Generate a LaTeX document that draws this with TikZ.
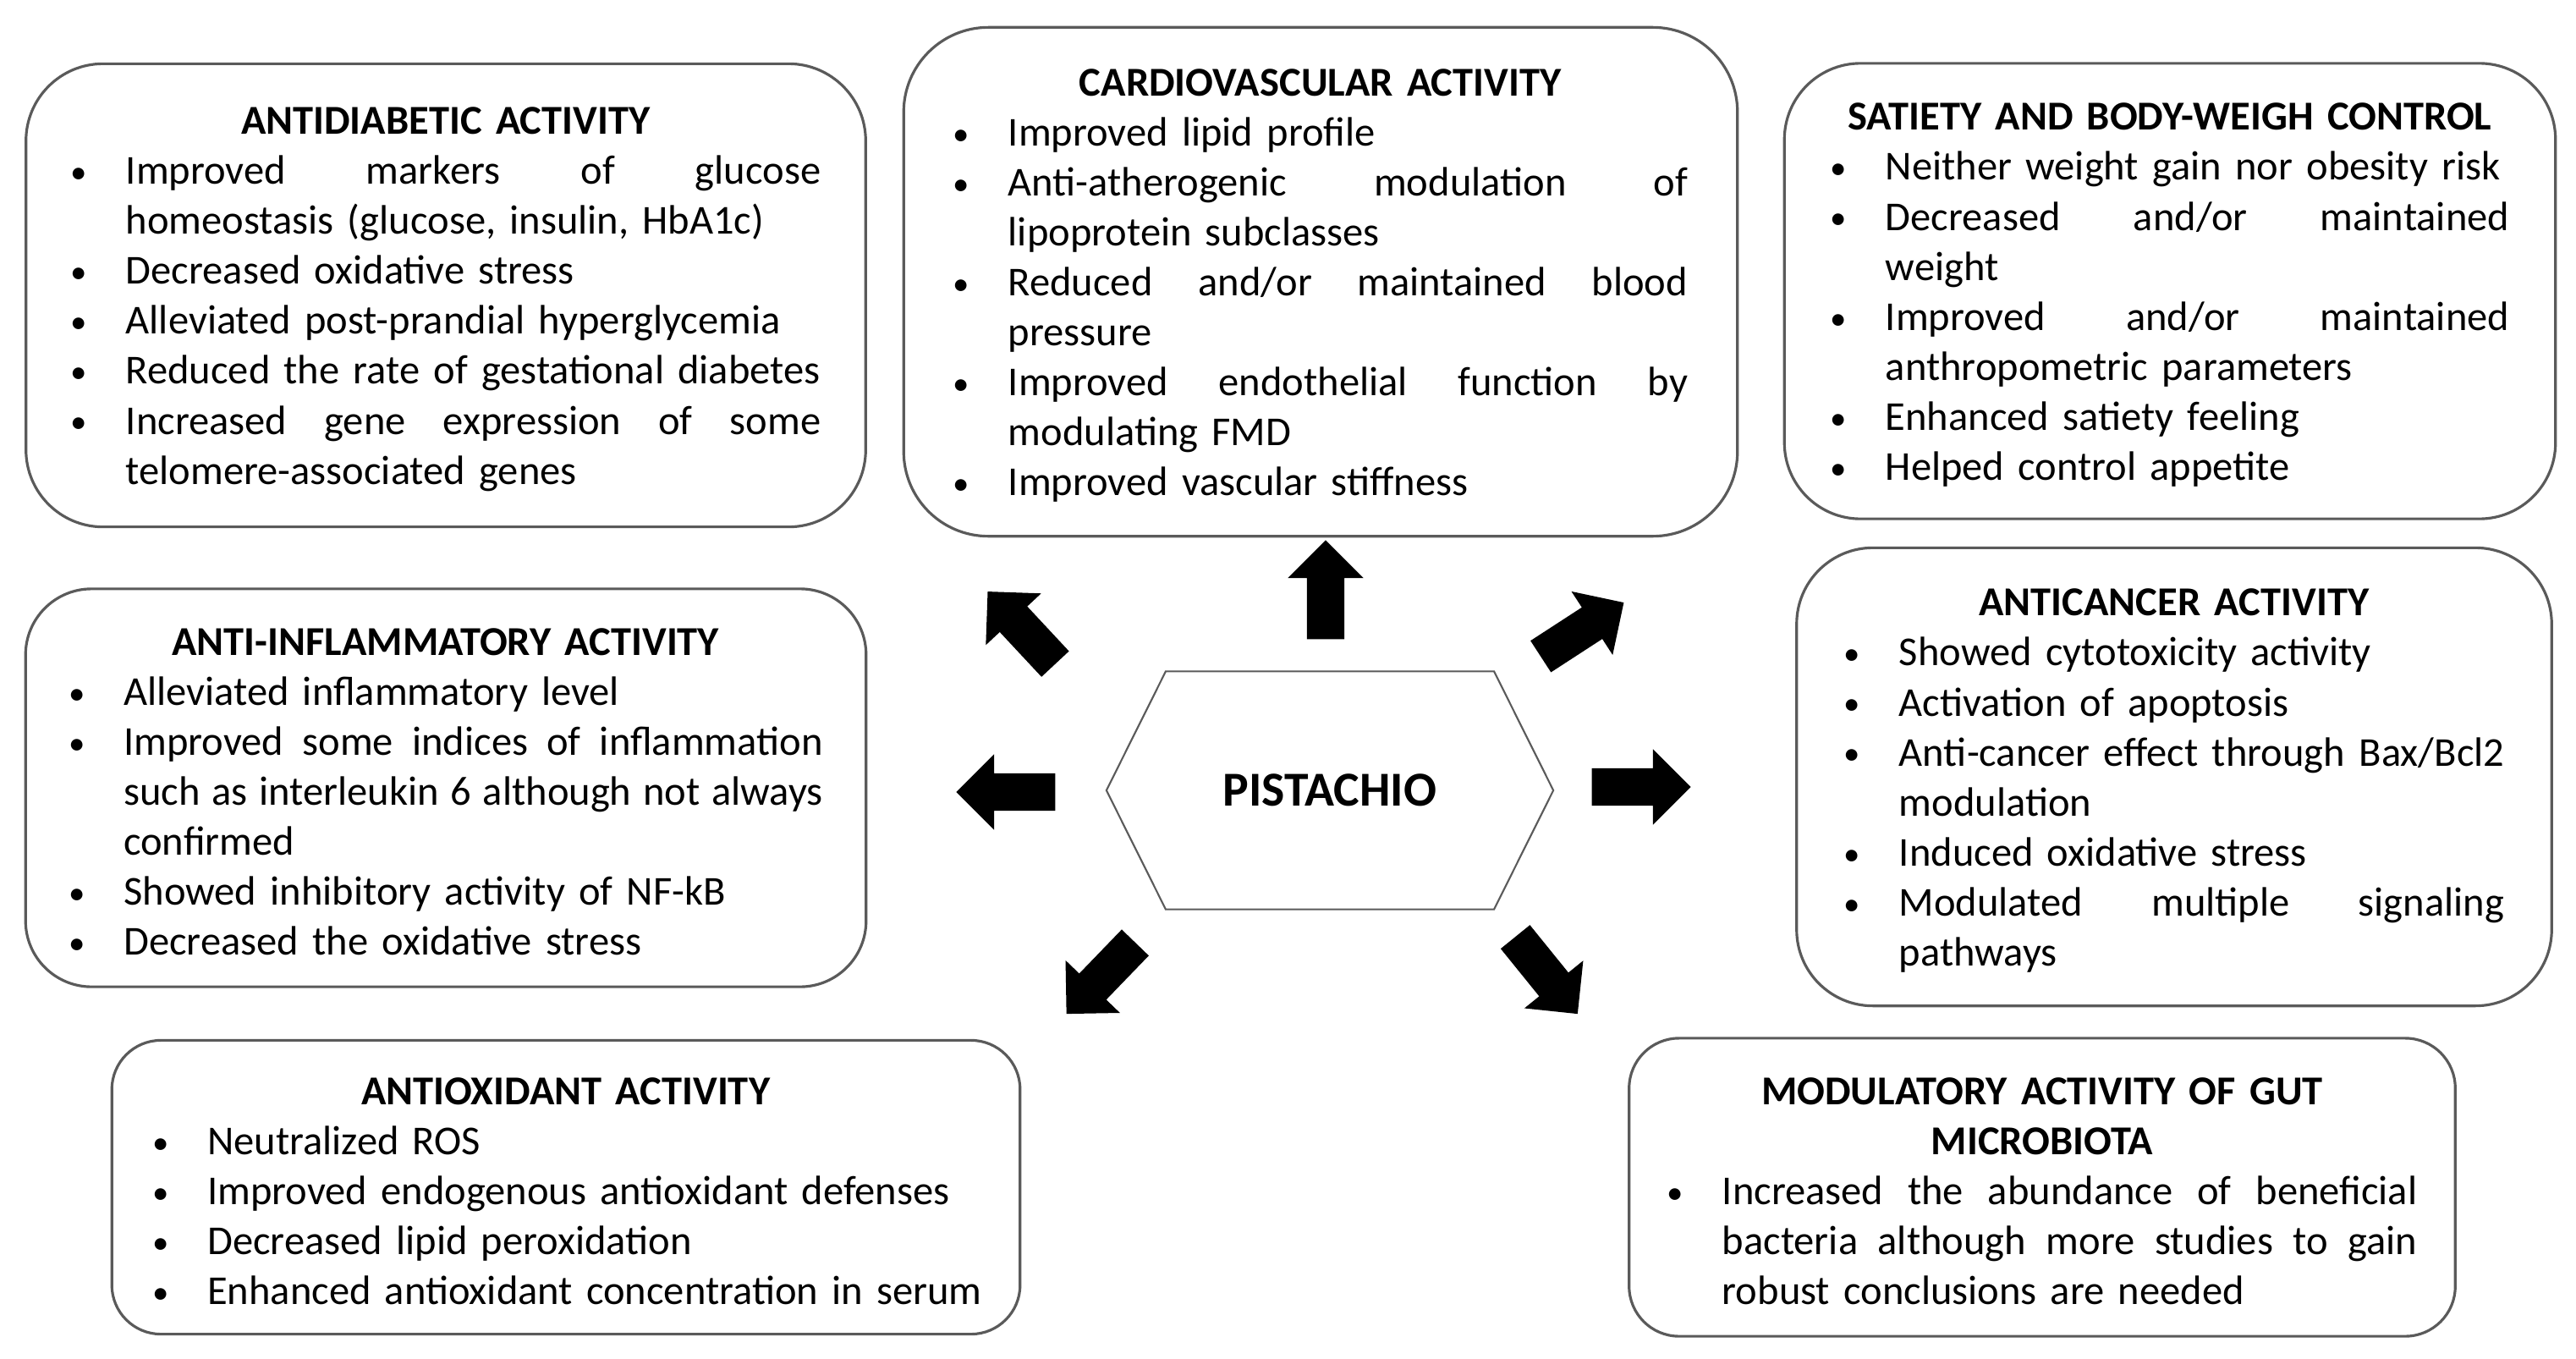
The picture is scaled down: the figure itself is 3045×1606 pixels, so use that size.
\documentclass[tikz,border=0pt]{standalone}
\usepackage{fontspec}
\setmainfont{Carlito}
\usepackage{tikz}
\usetikzlibrary{shapes.arrows,shapes.symbols}

\hbadness=10000
\newlength{\bulind}
\setlength{\bulind}{0.65cm}
% bullet, justified line, one line item, item with a stretched first line, title
\newcommand{\bul}{\makebox[\bulind][l]{\raisebox{0.05ex}{\scalebox{0.8}{\textbullet}}}}
\newcommand{\jl}[1]{\hbox to\dimexpr\hsize-\bulind\relax{\spaceskip=\fontdimen2\font plus 1fil\relax#1}}
\newcommand{\itm}[1]{\par\noindent\hbox{\bul#1}}
\newcommand{\itmj}[2]{\par\noindent\hbox{\bul\jl{#1}}\par\noindent\hbox{\hspace*{\bulind}#2}}
\newcommand{\ttl}[1]{\par\noindent\hbox to\hsize{\hfil\textbf{#1}\hfil}}
\newcommand{\fin}{\par\kern0.18cm}

\begin{document}
\begin{tikzpicture}[x=0.01cm,y=-0.01cm]
\tikzstyle{box}=[draw={rgb,255:red,90;green,90;blue,90}, line width=0.9pt, inner sep=0pt, font=\fontsize{13.8pt}{16.8pt}\selectfont]
\tikzstyle{arrow}=[single arrow, fill=black, inner sep=0pt, text height=0.215cm, text depth=0.215cm, single arrow head extend=0.225cm, single arrow head indent=0pt, minimum width=0.88cm, minimum height=1.17cm]
\useasboundingbox (0,0) rectangle (3045,1606);

\node (diab) [box, rounded corners=0.91cm, minimum width=9.92cm, minimum height=5.47cm, text width=8.86cm] at (527,349) {%
\ttl{ANTIDIABETIC ACTIVITY}
\itmj{Improved markers of glucose}{homeostasis (glucose, insulin, HbA1c)}
\itm{Decreased oxidative stress}
\itm{Alleviated post-prandial hyperglycemia}
\itm{Reduced the rate of gestational diabetes}
\itmj{Increased gene expression of some}{telomere-associated genes}\fin};

\node (cardio) [box, rounded corners=1cm, minimum width=9.85cm, minimum height=6.01cm, text width=8.68cm] at (1561,333) {%
\ttl{CARDIOVASCULAR ACTIVITY}
\itm{Improved lipid profile}
\itmj{Anti-atherogenic modulation of}{lipoprotein subclasses}
\itmj{Reduced and/or maintained blood}{pressure}
\itmj{Improved endothelial function by}{modulating FMD}
\itm{Improved vascular stiffness}\fin};

\node (satiety) [box, rounded corners=0.9cm, minimum width=9.11cm, minimum height=5.38cm, text width=8.02cm] at (2565,344) {%
\ttl{SATIETY AND BODY-WEIGH CONTROL}
\itm{Neither weight gain nor obesity risk}
\itmj{Decreased and/or maintained}{weight}
\itmj{Improved and/or maintained}{anthropometric parameters}
\itm{Enhanced satiety feeling}
\itm{Helped control appetite}\fin};

\node (inflam) [box, rounded corners=0.78cm, minimum width=9.93cm, minimum height=4.70cm, text width=8.91cm] at (527,931) {%
\ttl{ANTI-INFLAMMATORY ACTIVITY}
\itm{Alleviated inflammatory level}
\itmj{Improved some indices of inflammation}{\jl{such as interleukin 6 although not always}}
\par\noindent\hbox{\hspace*{\bulind}confirmed}
\itm{Showed inhibitory activity of NF-kB}
\itm{Decreased the oxidative stress}\fin};

\node (cancer) [box, rounded corners=0.9cm, minimum width=8.92cm, minimum height=5.41cm, text width=7.80cm] at (2570,918) {%
\ttl{ANTICANCER ACTIVITY}
\itm{Showed cytotoxicity activity}
\itm{Activation of apoptosis}
\itmj{Anti-cancer effect through Bax/Bcl2}{modulation}
\itm{Induced oxidative stress}
\itmj{Modulated multiple signaling}{pathways}\fin};

\node (antiox) [box, rounded corners=0.58cm, minimum width=10.73cm, minimum height=3.47cm, text width=9.77cm] at (669,1403) {%
\ttl{ANTIOXIDANT ACTIVITY}
\itm{Neutralized ROS}
\itm{Improved endogenous antioxidant defenses}
\itm{Decreased lipid peroxidation}
\itm{Enhanced antioxidant concentration in serum}\fin};

\node (gut) [box, rounded corners=0.59cm, minimum width=9.76cm, minimum height=3.52cm, text width=8.86cm] at (2414,1403) {%
\ttl{MODULATORY ACTIVITY OF GUT}
\ttl{MICROBIOTA}
\itmj{Increased the abundance of beneficial}{\jl{bacteria although more studies to gain}}
\par\noindent\hbox{\hspace*{\bulind}robust conclusions are needed}\fin};

\node (pist) [draw={rgb,255:red,90;green,90;blue,90}, line width=0.6pt, signal, signal to=west and east, signal pointer angle=127, minimum width=5.28cm, minimum height=2.81cm, inner sep=0pt, font=\fontsize{16.4pt}{18pt}\selectfont\bfseries] at (1572,934) {PISTACHIO};

\node (aU) [arrow, rotate=90] at (1567,708) {};
\node (aUL) [arrow, rotate=133] at (1215,750) {};
\node (aUR) [arrow, rotate=33] at (1861,750) {};
\node (aL) [arrow, rotate=180] at (1200,936) {};
\node (aR) [arrow] at (1929,930) {};
\node (aDL) [arrow, rotate=-134] at (1309,1148) {};
\node (aDR) [arrow, rotate=-51] at (1821,1144) {};
\end{tikzpicture}
\end{document}
